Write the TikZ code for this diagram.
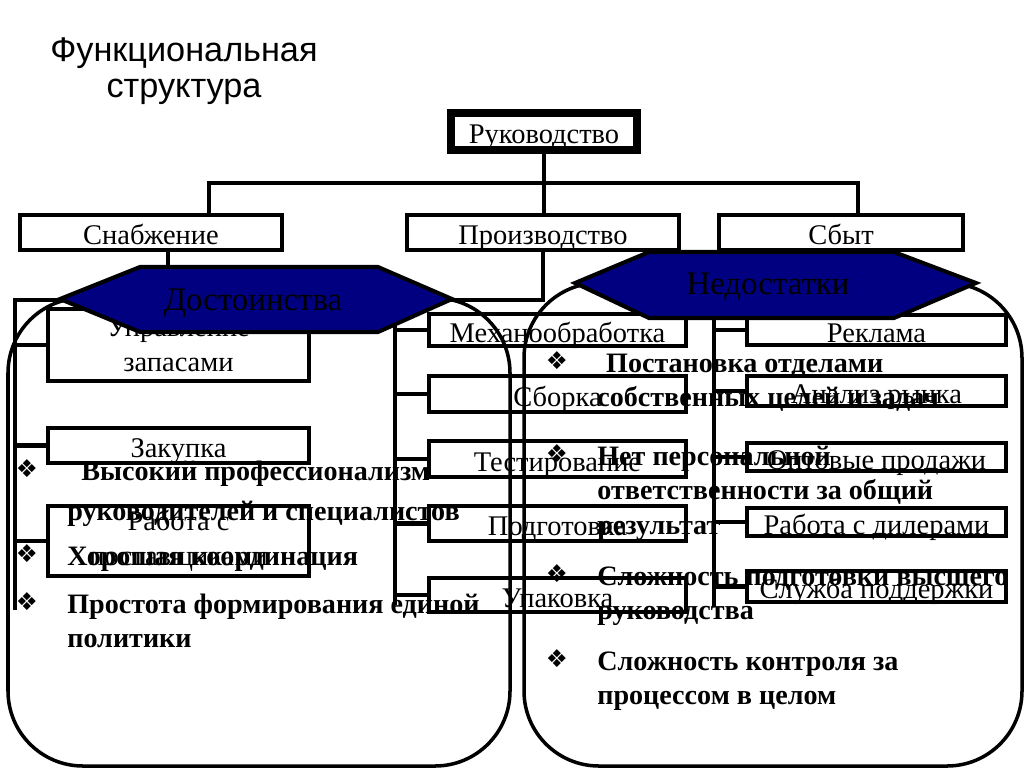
\documentclass[tikz,border=0pt]{standalone}
\usepackage{fontspec}
\setmainfont{Liberation Serif}
\newfontfamily\headfont{Liberation Sans}
\newfontfamily\symfont{DejaVu Sans}
\definecolor{hexblue}{RGB}{0,0,128}
\newcommand{\bxf}{\fontsize{16.2pt}{19.8pt}\selectfont}
\newcommand{\bdf}{\fontsize{16pt}{19.8pt}\selectfont\bfseries}
\newcommand{\hxf}{\fontsize{18.7pt}{22pt}\selectfont}
\tikzset{
  orgbox/.style={draw,line width=2.3pt,fill=white,inner sep=0pt,font=\bxf,align=center},
  one/.style={text height=14pt,text depth=0pt},
  sz/.style 2 args={minimum width=#1*0.02cm,minimum height=#2*0.02cm},
  conn/.style={line width=2.3pt},
  frame/.style={line width=2pt,rounded corners=1.5cm},
  hexa/.style={draw,line width=2.3pt,fill=hexblue,line join=miter},
  pros/.style={font=\bdf,anchor=base west,inner sep=0pt},
  bul/.style={font=\symfont\fontsize{14pt}{14pt}\selectfont,inner sep=0pt}
}

\begin{document}
\begin{tikzpicture}[x=0.02cm,y=-0.02cm]
  \useasboundingbox (0,0) rectangle (1024,768);
  \node[font=\headfont\fontsize{19.5pt}{20.4pt}\selectfont,align=center,anchor=base]
    (title) at (184,97) {Функциональная\\структура};
  % top level
  \node[orgbox,one,sz={186}{37},line width=4.5pt] (ruk) at (544,131.5) {Руководство};
  \node[orgbox,one,sz={262}{35}] (snab) at (151,232.5) {Снабжение};
  \node[orgbox,one,sz={272}{35}] (proizv) at (543,232.5) {Производство};
  \node[orgbox,one,sz={244}{35}] (sbyt) at (841,232.5) {Сбыт};
  % supply
  \node[orgbox,sz={261}{72}] (upr) at (178.5,345) {Управление\\запасами};
  \node[orgbox,one,sz={261}{35}] (zak) at (178.5,445.5) {Закупка};
  \node[orgbox,sz={261}{70}] (rab) at (178.5,541) {Работа с\\поставщиками};
  % production
  \node[orgbox,one,sz={257}{32}] (mech) at (557.5,330) {Механообработка};
  \node[orgbox,one,sz={257}{36}] (sbor) at (557.5,394) {Сборка};
  \node[orgbox,one,sz={257}{36}] (test) at (557.5,459) {Тестирование};
  \node[orgbox,one,sz={257}{35}] (podg) at (557.5,523.5) {Подготовка};
  \node[orgbox,one,sz={257}{34}] (upak) at (557.5,595) {Упаковка};
  % sales
  \node[orgbox,one,sz={259}{30}] (rekl) at (876.5,330) {Реклама};
  \node[orgbox,one,sz={259}{30}] (anal) at (876.5,391) {Анализ рынка};
  \node[orgbox,one,sz={259}{28}] (opt) at (876.5,457) {Оптовые продажи};
  \node[orgbox,one,sz={259}{28}] (dil) at (876.5,522) {Работа с дилерами};
  \node[orgbox,one,sz={259}{31}] (sluzh) at (876.5,586.5) {Служба поддержки};

  \coordinate (busL) at (209,183);
  \coordinate (busR) at (858,183);
  \coordinate (snabdrop) at (168,300);
  \coordinate (lb) at (15,300);
  \coordinate (lbend) at (15,610);
  \coordinate (mb) at (395,300);
  \coordinate (mbend) at (395,605);
  \coordinate (rb) at (714,300);
  \coordinate (rbend) at (714,607);
  \draw[conn] (ruk.south) -- (ruk.south |- proizv.north);
  \draw[conn] (busL |- snab.north) -- (busL) -- (busR) -- (busR |- sbyt.north);
  \draw[conn] (snabdrop |- snab.south) -- (snabdrop) -- (lb) -- (lbend);
  \draw[conn] (proizv.south) -- (proizv.south |- mb) -- (mb) -- (mbend);
  \draw[conn] (sbyt.south) -- (sbyt.south |- rb) -- (rb) -- (rbend);
  \foreach \b in {upr,zak,rab}
    \draw[conn] (\b.west) -- (\b.west -| lb);
  \foreach \b in {mech,sbor,test,podg,upak}
    \draw[conn] (\b.west) -- (\b.west -| mb);
  \foreach \b in {rekl,anal,opt,dil,sluzh}
    \draw[conn] (\b.west) -- (\b.west -| rb);

  % pros and cons
  \draw[frame] (8,298) rectangle (510,766);
  \draw[frame] (524,283) rectangle (1022,766);
  \draw[hexa] (60,299) -- (140,267) -- (378,267) -- (452,299) -- (378,332) -- (140,332) -- cycle;
  \draw[hexa] (575,283) -- (649,252) -- (894,252) -- (976,283) -- (894,318) -- (649,318) -- cycle;
  \node[font=\hxf] (dost) at (253,303) {Достоинства};
  \node[font=\hxf] (nedost) at (768,287) {Недостатки};

  \node[pros] (d1) at (67,480) {\begin{tabular}[t]{@{}l@{}}\hspace{8pt}Высокий профессионализм\\[3pt]руководителей и специалистов\end{tabular}};
  \node[pros] (d2) at (67,565) {\begin{tabular}[t]{@{}l@{}}Хорошая координация\end{tabular}};
  \node[pros] (d3) at (67,613) {\begin{tabular}[t]{@{}l@{}}Простота формирования единой\\политики\end{tabular}};
  \node[pros] (n1) at (597,372) {\begin{tabular}[t]{@{}l@{}}\hspace{5pt}Постановка отделами\\собственных целей и задач\end{tabular}};
  \node[pros] (n2) at (597,465) {\begin{tabular}[t]{@{}l@{}}Нет персональной\\ответственности за общий\\результат\end{tabular}};
  \node[pros] (n3) at (597,585) {\begin{tabular}[t]{@{}l@{}}Сложность подготовки высшего\\руководства\end{tabular}};
  \node[pros] (n4) at (597,670) {\begin{tabular}[t]{@{}l@{}}Сложность контроля за\\процессом в целом\end{tabular}};
  \foreach \t in {d1,d2,d3,n1,n2,n3,n4}
    \node[bul] at ([shift={(-40,-11)}]\t.base west) {❖};
\end{tikzpicture}
\end{document}
